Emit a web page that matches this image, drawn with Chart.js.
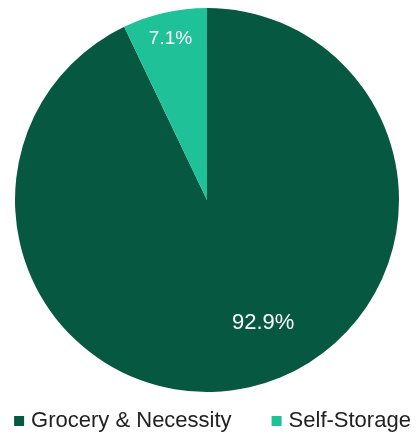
<!DOCTYPE html>
<html>
<head>
<meta charset="utf-8">
<script src="https://cdn.jsdelivr.net/npm/chart.js@4.4.0/dist/chart.umd.min.js"></script>
<style>
  html, body { margin: 0; padding: 0; background: #ffffff; }
  #wrap { width: 419px; height: 437px; position: relative; }
</style>
</head>
<body>
<div id="wrap"><canvas id="c" width="419" height="437"></canvas></div>
<script>
const categories = ["Grocery & Necessity", "Self-Storage"];
const values = [92.9, 7.1];
const valueLabels = ["92.9%", "7.1%"];

const sliceColors = ["#075840", "#1fc298"];

// label placement inside each slice: fraction along the arc and fraction of radius
const labelPlacement = [
  { along: 0.465, radius: 0.705, size: 22 },
  { along: 0.5, radius: 0.86, size: 19 }
];

const sliceLabelsPlugin = {
  id: 'sliceLabels',
  afterDatasetsDraw(chart) {
    const ctx = chart.ctx;
    const meta = chart.getDatasetMeta(0);
    ctx.save();
    ctx.fillStyle = '#ffffff';
    ctx.textAlign = 'center';
    ctx.textBaseline = 'middle';
    meta.data.forEach((arc, i) => {
      const p = arc.getProps(['x', 'y', 'startAngle', 'endAngle', 'outerRadius'], true);
      const pl = labelPlacement[i];
      const a = p.startAngle + (p.endAngle - p.startAngle) * pl.along;
      const r = p.outerRadius * pl.radius;
      ctx.font = pl.size + 'px "Liberation Sans", Arial, sans-serif';
      ctx.fillText(valueLabels[i], p.x + Math.cos(a) * r, p.y + Math.sin(a) * r);
    });
    ctx.restore();
  }
};

const bottomLegendPlugin = {
  id: 'bottomLegend',
  afterDraw(chart) {
    const ctx = chart.ctx;
    const fontSize = 22, box = 10, gapBoxText = 7, gapItems = 40;
    ctx.save();
    ctx.font = fontSize + 'px "Liberation Sans", Arial, sans-serif';
    const widths = categories.map(t => box + gapBoxText + ctx.measureText(t).width);
    const total = widths.reduce((s, w) => s + w, 0) + gapItems * (categories.length - 1);
    let x = (chart.width - total) / 2 + 3;
    const yMid = 421;
    ctx.textBaseline = 'middle';
    ctx.textAlign = 'left';
    categories.forEach((t, i) => {
      ctx.fillStyle = sliceColors[i];
      ctx.fillRect(x, yMid - box / 2, box, box);
      ctx.fillStyle = '#222222';
      ctx.fillText(t, x + box + gapBoxText, yMid);
      x += widths[i] + gapItems;
    });
    ctx.restore();
  }
};

new Chart(document.getElementById('c'), {
  type: 'pie',
  data: {
    labels: categories,
    datasets: [{
      data: values,
      backgroundColor: sliceColors,
      borderWidth: 0,
      hoverOffset: 0
    }]
  },
  options: {
    responsive: false,
    animation: false,
    layout: { padding: { top: 8, bottom: 45, left: 0, right: 5 } },
    plugins: {
      legend: { display: false },
      tooltip: { enabled: false }
    }
  },
  plugins: [sliceLabelsPlugin, bottomLegendPlugin]
});
</script>
</body>
</html>
